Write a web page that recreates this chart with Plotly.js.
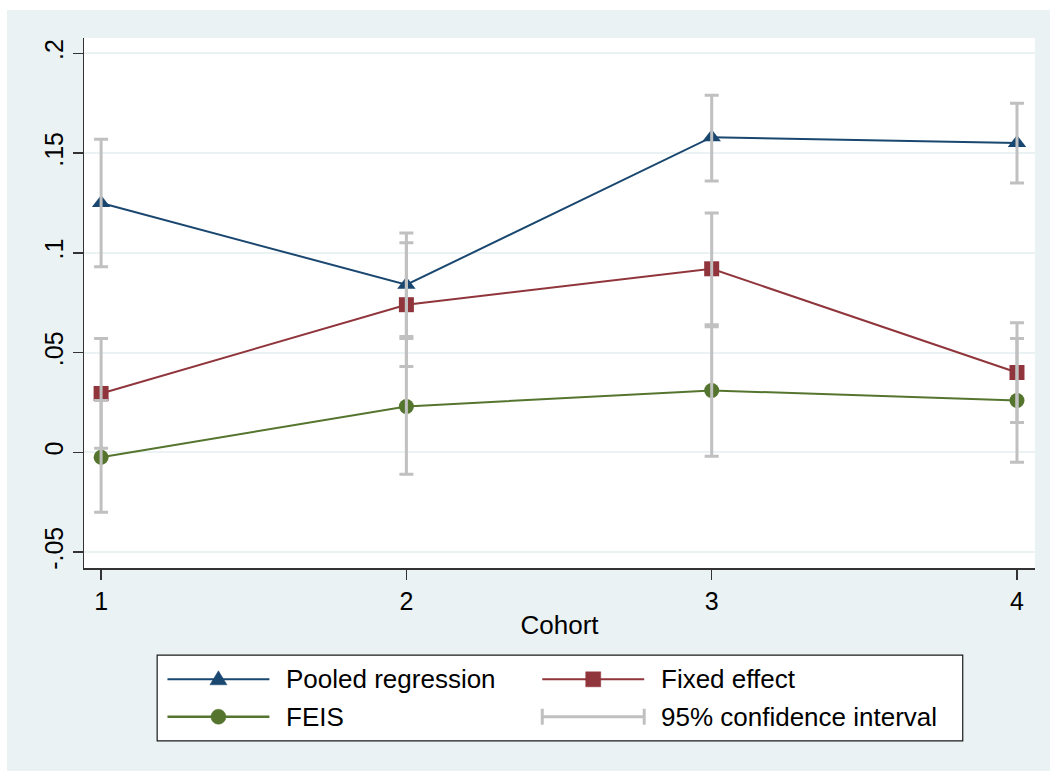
<!DOCTYPE html>
<html>
<head>
<meta charset="utf-8">
<script src="https://cdn.plot.ly/plotly-3.0.1.min.js"></script>
<style>
  html, body { margin: 0; padding: 0; background: #ffffff; width: 1050px; height: 771px; overflow: hidden; }
  #chart { position: absolute; left: 7px; top: 10px; width: 1043px; height: 761px; }
</style>
</head>
<body>
<div id="chart"></div>
<script>
// ---- data ----
const cohorts = [1, 2, 3, 4];
const tickLabelsY = ['-.05', '0', '.05', '.1', '.15', '.2'];
const tickValsY = [-0.05, 0, 0.05, 0.1, 0.15, 0.2];

const pooled = [0.125, 0.084, 0.158, 0.155];
const pooledLo = [0.093, 0.058, 0.136, 0.135];
const pooledHi = [0.157, 0.110, 0.179, 0.175];

const fixedEff = [0.0295, 0.074, 0.092, 0.040];
const fixedLo = [0.002, 0.043, 0.064, 0.015];
const fixedHi = [0.057, 0.105, 0.120, 0.065];

const feis = [-0.0025, 0.023, 0.031, 0.026];
const feisLo = [-0.030, -0.011, -0.002, -0.005];
const feisHi = [0.026, 0.057, 0.063, 0.057];

const seriesNames = ['Pooled regression', 'Fixed effect', 'FEIS', '95% confidence interval'];

// ---- style ----
const NAVY = '#1a476f', MAROON = '#90353b', GREEN = '#55752f', CIGRAY = '#c0c0c0';
const BG = '#eaf2f3';
const FONT = 'Liberation Sans, Arial, sans-serif';

// plot-area geometry in page pixels (div sits at 7,10)
const DIVX = 7, DIVY = 10, W = 1043, H = 761;
const PL = 83.5, PR = 1035, PT = 37.5, PB = 568.5;
const margin = { l: PL - DIVX, r: W - (PR - DIVX), t: PT - DIVY, b: H - (PB - DIVY), pad: 0 };
const px = x => (x - PL) / (PR - PL);
const py = y => (PB - y) / (PB - PT);

function lineTrace(y, name, color, symbol, size) {
  return {
    x: cohorts, y: y, name: name, type: 'scatter', mode: 'lines+markers',
    line: { color: color, width: 2 },
    marker: { color: color, symbol: symbol, size: size },
    showlegend: false, hoverinfo: 'x+y'
  };
}
function ciTrace(y, lo, hi) {
  return {
    x: cohorts, y: y, type: 'scatter', mode: 'markers', name: seriesNames[3],
    marker: { size: 1, opacity: 0 },
    error_y: {
      type: 'data', symmetric: false,
      array: hi.map((h, i) => h - y[i]),
      arrayminus: lo.map((l, i) => y[i] - l),
      color: CIGRAY, thickness: 3, width: 7
    },
    showlegend: false, hoverinfo: 'skip'
  };
}

const data = [
  lineTrace(pooled, seriesNames[0], NAVY, 'triangle-up', 16),
  lineTrace(fixedEff, seriesNames[1], MAROON, 'square', 15),
  lineTrace(feis, seriesNames[2], GREEN, 'circle', 15),
  ciTrace(pooled, pooledLo, pooledHi),
  ciTrace(fixedEff, fixedLo, fixedHi),
  ciTrace(feis, feisLo, feisHi)
];

// ---- manual legend (Stata style) ----
const legTop = 655.7, legBot = 741.7, legL = 156.7, legR = 962.7;
const row1 = 680, row2 = 717.5;
const c1a = 167, c1b = 269, c1m = 218, c1t = 284;
const c2a = 542, c2b = 644, c2m = 593, c2t = 659;

const shapes = [
  { type: 'rect', xref: 'paper', yref: 'paper', x0: px(legL), x1: px(legR), y0: py(legBot), y1: py(legTop),
    fillcolor: '#ffffff', line: { color: '#1a1a1a', width: 1.2 }, layer: 'above' },
  { type: 'line', xref: 'paper', yref: 'paper', x0: px(c1a), x1: px(c1b), y0: py(row1), y1: py(row1), line: { color: NAVY, width: 2 } },
  { type: 'line', xref: 'paper', yref: 'paper', x0: px(c2a), x1: px(c2b), y0: py(row1), y1: py(row1), line: { color: MAROON, width: 2 } },
  { type: 'line', xref: 'paper', yref: 'paper', x0: px(c1a), x1: px(c1b), y0: py(row2), y1: py(row2), line: { color: GREEN, width: 2.5 } },
  { type: 'line', xref: 'paper', yref: 'paper', x0: px(c2a), x1: px(c2b), y0: py(row2), y1: py(row2), line: { color: CIGRAY, width: 3 } },
  { type: 'line', xref: 'paper', yref: 'paper', xsizemode: 'pixel', ysizemode: 'pixel', xanchor: px(c2a), yanchor: py(row2),
    x0: 0, x1: 0, y0: -8, y1: 8, line: { color: CIGRAY, width: 3 } },
  { type: 'line', xref: 'paper', yref: 'paper', xsizemode: 'pixel', ysizemode: 'pixel', xanchor: px(c2b), yanchor: py(row2),
    x0: 0, x1: 0, y0: -8, y1: 8, line: { color: CIGRAY, width: 3 } },
  // legend markers
  { type: 'path', xref: 'paper', yref: 'paper', xsizemode: 'pixel', ysizemode: 'pixel', xanchor: px(c1m), yanchor: py(row1),
    path: 'M -8.5 -5.5 L 8.5 -5.5 L 0 8.5 Z', fillcolor: NAVY, line: { color: NAVY, width: 0.5 } },
  { type: 'rect', xref: 'paper', yref: 'paper', xsizemode: 'pixel', ysizemode: 'pixel', xanchor: px(c2m), yanchor: py(row1),
    x0: -7.5, x1: 7.5, y0: -7.5, y1: 7.5, fillcolor: MAROON, line: { color: MAROON, width: 0.5 } },
  { type: 'circle', xref: 'paper', yref: 'paper', xsizemode: 'pixel', ysizemode: 'pixel', xanchor: px(c1m), yanchor: py(row2),
    x0: -7.5, x1: 7.5, y0: -7.5, y1: 7.5, fillcolor: GREEN, line: { color: GREEN, width: 0.5 } }
];

const legFont = { family: FONT, size: 26, color: '#000000' };
const annotations = [
  { text: seriesNames[0], xref: 'paper', yref: 'paper', x: px(c1t), y: py(row1), xanchor: 'left', yanchor: 'middle', showarrow: false, font: legFont },
  { text: seriesNames[1], xref: 'paper', yref: 'paper', x: px(c2t), y: py(row1), xanchor: 'left', yanchor: 'middle', showarrow: false, font: legFont },
  { text: seriesNames[2], xref: 'paper', yref: 'paper', x: px(c1t), y: py(row2), xanchor: 'left', yanchor: 'middle', showarrow: false, font: legFont },
  { text: seriesNames[3], xref: 'paper', yref: 'paper', x: px(c2t), y: py(row2), xanchor: 'left', yanchor: 'middle', showarrow: false, font: legFont }
];

const layout = {
  width: W, height: H,
  margin: margin,
  paper_bgcolor: BG,
  plot_bgcolor: '#ffffff',
  font: { family: FONT, size: 24, color: '#000000' },
  showlegend: false,
  xaxis: {
    range: [0.944, 4.059],
    tickmode: 'array', tickvals: cohorts, ticktext: cohorts.map(String),
    showgrid: false, zeroline: false,
    showline: true, linecolor: '#333333', linewidth: 1.5,
    ticks: 'outside', ticklen: 10, tickwidth: 1.5, tickcolor: '#333333',
    tickfont: { family: FONT, size: 25, color: '#000000' },
    title: { text: 'Cohort', font: { family: FONT, size: 26, color: '#000000' }, standoff: 2 },
    automargin: false
  },
  yaxis: {
    range: [-0.058, 0.2077],
    tickmode: 'array', tickvals: tickValsY, ticktext: tickLabelsY,
    tickangle: -90,
    showgrid: true, gridcolor: BG, gridwidth: 2,
    zeroline: false,
    showline: true, linecolor: '#333333', linewidth: 1.5,
    ticks: 'outside', ticklen: 10, tickwidth: 1.5, tickcolor: '#333333',
    tickfont: { family: FONT, size: 25, color: '#000000' },
    automargin: false
  },
  shapes: shapes,
  annotations: annotations
};

Plotly.newPlot('chart', data, layout, { displayModeBar: false, staticPlot: true });
</script>
</body>
</html>
